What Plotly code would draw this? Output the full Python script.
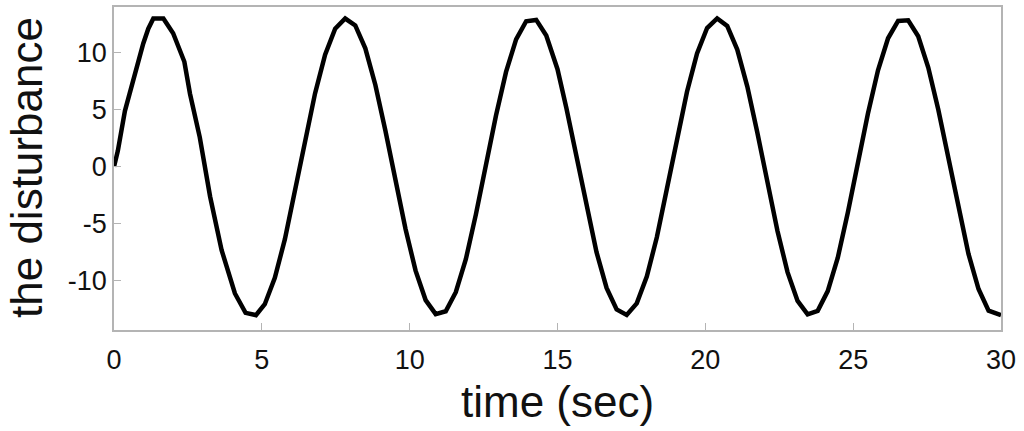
import plotly.graph_objects as go

# tiempo (s) y perturbación
tiempo = [0.0, 0.13, 0.37, 0.71, 0.99, 1.16, 1.33, 1.67, 2.00, 2.38, 2.57, 2.90, 3.25, 3.64, 4.09,
          4.45, 4.80, 5.10, 5.44, 5.78, 6.12, 6.46, 6.80, 7.14, 7.48, 7.82, 8.16, 8.50,
          8.84, 9.18, 9.52, 9.86, 10.20, 10.54, 10.88, 11.22, 11.56, 11.90, 12.24, 12.58,
          12.92, 13.26, 13.60, 13.94, 14.28, 14.62, 14.96, 15.00, 15.30, 15.64, 15.98,
          16.32, 16.66, 17.00, 17.34, 17.68, 18.02, 18.36, 18.70, 19.04, 19.38, 19.72,
          20.06, 20.40, 20.74, 21.08, 21.42, 21.76, 22.10, 22.44, 22.78, 23.12, 23.46,
          23.80, 24.14, 24.48, 24.82, 25.16, 25.50, 25.84, 26.18, 26.52, 26.86, 27.20,
          27.54, 27.88, 28.22, 28.56, 28.90, 29.24, 29.58, 30.0]
perturbacion = [0.0, 1.4, 4.9, 8.2, 10.8, 12.1, 13.0, 13.0, 11.7, 9.2, 6.4, 2.6, -2.6, -7.3, -11.1,
                -12.8, -13.0, -12.04, -9.73, -6.34, -2.11, 2.29, 6.43, 9.82, 12.10, 12.99, 12.39, 10.38,
                7.17, 3.15, -1.24, -5.45, -9.10, -11.68, -12.91, -12.66, -10.99, -8.10, -4.17, 0.18,
                4.50, 8.31, 11.17, 12.75, 12.87, 11.51, 8.83, 8.55, 5.15, 0.88, -3.49,
                -7.48, -10.61, -12.50, -12.98, -11.97, -9.62, -6.18, -1.93, 2.46, 6.58, 9.94,
                12.16, 13.00, 12.34, 10.27, 7.03, 2.98, -1.41, -5.62, -9.23, -11.75, -12.93,
                -12.62, -10.89, -7.96, -4.00, 0.35, 4.67, 8.45, 11.26, 12.78, 12.84, 11.43,
                8.70, 4.99, 0.71, -3.67, -7.63, -10.71, -12.6, -13.0]

x_ticks = [0, 5, 10, 15, 20, 25, 30]
y_ticks = [-10, -5, 0, 5, 10]
y_labels = ['-10', '-5', '0', '5', '10']

fuente = 'Liberation Sans, Arial, sans-serif'
gris = '#b4b4b4'

fig = go.Figure()
fig.add_trace(go.Scatter(
    x=tiempo,
    y=perturbacion,
    mode='lines',
    line=dict(color='black', width=4.5),
    showlegend=False,
))

# márgenes fijos: área de trazado 114..1001 x 7..330
fig.update_layout(
    width=1024,
    height=431,
    paper_bgcolor='white',
    plot_bgcolor='white',
    margin=dict(l=114, r=23, t=7, b=101, autoexpand=False),
    font=dict(family=fuente, color='#111111', size=27),
)

ejes = dict(
    ticks='inside',
    ticklen=7,
    tickcolor=gris,
    showline=True,
    linecolor=gris,
    linewidth=1.5,
    mirror=True,
    showgrid=False,
    zeroline=False,
    automargin=False,
    tickfont=dict(size=27),
)
fig.update_xaxes(range=[0, 30], tickvals=x_ticks, ticklabelstandoff=5, **ejes)
fig.update_yaxes(range=[-14.3, 14], tickvals=y_ticks, ticktext=y_labels, **ejes)

# títulos de los ejes como anotaciones para fijar su posición
alto = 323
ancho = 887
fig.add_annotation(
    text='time (sec)', xref='paper', yref='paper',
    x=(557 - 114) / ancho, y=(330 - 402) / alto,
    xanchor='center', yanchor='middle', showarrow=False,
    font=dict(size=44, family=fuente, color='#111111'),
)
fig.add_annotation(
    text='the disturbance', xref='paper', yref='paper',
    x=(26 - 114) / ancho, y=(330 - 168) / alto,
    xanchor='center', yanchor='middle', showarrow=False, textangle=-90,
    font=dict(size=44, family=fuente, color='#111111'),
)

# quitar el margen por defecto del <body> para que la figura empiece en (0, 0)
fig.write_html("out.html", config={'displayModeBar': False},
               post_script="document.body.style.margin='0';")
